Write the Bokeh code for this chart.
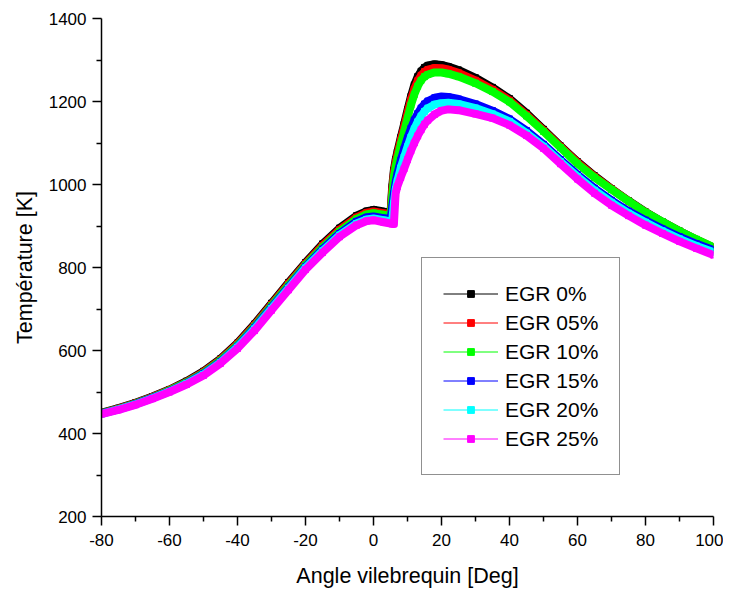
from bokeh.plotting import figure
from bokeh.models import Range1d, Legend, LegendItem, FixedTicker
from bokeh.embed import file_html
from bokeh.resources import INLINE

# ---- data ----
angle = [-80, -75, -70, -65, -60, -55, -50, -45, -40, -35, -30, -25, -20, -15, -10, -5, -2, 0, 3, 5,
         5.5, 6, 6.5, 7, 8, 9, 10, 11, 12, 13, 14, 15, 16,
         18, 20, 22, 25,
         30, 35, 40, 45, 50, 55, 60, 65, 70, 75, 80,
         85, 90, 95, 100]

egr00 = [450, 461, 474, 489, 506, 526, 550, 580, 618, 664, 714, 764, 812, 857, 895, 925, 936, 939, 935, 930,
         995, 1035, 1060, 1078, 1113, 1145, 1180, 1212, 1240, 1260, 1273, 1282, 1287,
         1290, 1288, 1284, 1276,
         1257, 1234, 1207, 1172, 1133, 1093, 1055, 1021, 990, 961, 934,
         910, 888, 867, 848]
egr05 = [449, 460, 473, 488, 505, 524, 548, 578, 616, 661, 711, 761, 809, 853, 891, 921, 932, 935, 931, 927,
         985, 1028, 1053, 1071, 1106, 1138, 1172, 1204, 1230, 1250, 1263, 1272, 1277,
         1281, 1280, 1277, 1269,
         1251, 1229, 1203, 1168, 1130, 1091, 1053, 1019, 989, 960, 933,
         909, 887, 867, 848]
egr10 = [449, 459, 472, 487, 504, 523, 546, 576, 613, 658, 708, 757, 806, 849, 887, 917, 928, 931, 927, 923,
         970, 1018, 1043, 1061, 1096, 1127, 1160, 1191, 1217, 1237, 1251, 1260, 1265,
         1270, 1270, 1267, 1260,
         1244, 1224, 1199, 1165, 1128, 1089, 1050, 1017, 988, 960, 933,
         910, 888, 868, 849]
egr15 = [448, 458, 471, 486, 502, 521, 544, 573, 610, 655, 704, 753, 802, 844, 882, 911, 921, 923, 919, 916,
         945, 978, 1005, 1025, 1058, 1086, 1112, 1135, 1155, 1171, 1184, 1194, 1201,
         1209, 1212, 1211, 1206,
         1194, 1178, 1158, 1130, 1097, 1060, 1024, 991, 962, 936, 914,
         893, 874, 857, 842]
egr20 = [447, 458, 470, 485, 501, 520, 542, 571, 608, 652, 701, 750, 799, 840, 878, 906, 916, 918, 914, 911,
         912, 955, 988, 1008, 1040, 1066, 1091, 1114, 1134, 1151, 1165, 1176, 1184,
         1193, 1196, 1197, 1194,
         1184, 1170, 1152, 1124, 1092, 1055, 1019, 986, 957, 931, 909,
         888, 869, 852, 837]
egr25 = [447, 457, 469, 484, 500, 518, 540, 569, 605, 648, 697, 746, 795, 836, 874, 902, 912, 914, 909, 906,
         905, 905, 978, 995, 1017, 1038, 1060, 1081, 1100, 1117, 1132, 1145, 1155,
         1169, 1178, 1181, 1179,
         1170, 1160, 1143, 1118, 1087, 1050, 1013, 979, 950, 925, 902,
         882, 863, 846, 830]

series_labels = ["EGR 0%", "EGR 05%", "EGR 10%", "EGR 15%", "EGR 20%", "EGR 25%"]
series_colors = ["#000000", "#ff0000", "#00ff00", "#0000ff", "#00ffff", "#ff00ff"]
series_values = [egr00, egr05, egr10, egr15, egr20, egr25]

x_ticks = [-80, -60, -40, -20, 0, 20, 40, 60, 80, 100]
x_minor = [-70, -50, -30, -10, 10, 30, 50, 70, 90]
y_ticks = [200, 400, 600, 800, 1000, 1200, 1400]
y_minor = [300, 500, 700, 900, 1100, 1300]

FONT = "Liberation Sans"

p = figure(frame_width=612, frame_height=498, x_range=Range1d(-80, 100), y_range=Range1d(200, 1400),
           output_backend="svg", toolbar_location=None,
           min_border_left=101, min_border_right=10, min_border_top=18, min_border_bottom=20)
p.xgrid.visible = False
p.ygrid.visible = False
p.outline_line_color = None
p.background_fill_color = "white"
p.border_fill_color = "white"

p.xaxis.ticker = FixedTicker(ticks=x_ticks, minor_ticks=x_minor)
p.yaxis.ticker = FixedTicker(ticks=y_ticks, minor_ticks=y_minor)
p.xaxis.major_label_overrides = {t: str(t) for t in x_ticks}
p.yaxis.major_label_overrides = {t: str(t) for t in y_ticks}
p.xaxis.axis_label = "Angle vilebrequin [Deg]"
p.yaxis.axis_label = "Température [K]"

for ax in (p.xaxis[0], p.yaxis[0]):
    ax.axis_line_width = 1.5
    ax.axis_line_color = "black"
    ax.major_tick_line_width = 1.5
    ax.minor_tick_line_width = 1.5
    ax.major_tick_line_color = "black"
    ax.minor_tick_line_color = "black"
    ax.major_tick_in = 0
    ax.major_tick_out = 9
    ax.minor_tick_in = 0
    ax.minor_tick_out = 5
    ax.major_label_text_font = FONT
    ax.major_label_text_font_size = "17px"
    ax.major_label_text_color = "black"
    ax.axis_label_text_font = FONT
    ax.axis_label_text_font_size = "21.5px"
    ax.axis_label_text_font_style = "normal"
    ax.axis_label_text_color = "black"

p.xaxis[0].major_label_standoff = 8
p.xaxis[0].axis_label_standoff = 15
p.yaxis[0].major_label_standoff = 6
p.yaxis[0].axis_label_standoff = 9

items = []
for lab, col, vals in zip(series_labels, series_colors, series_values):
    p.line(angle, vals, line_color=col, line_width=8, line_join="round")
    thin = p.line(angle, vals, line_color=col, line_width=1)
    mk = p.scatter(angle, vals, marker="square", size=6, fill_color=col, line_color=col)
    items.append(LegendItem(label=lab, renderers=[thin, mk]))

legend = Legend(items=items, location=(320, 41), glyph_width=55, glyph_height=17,
                label_height=29, label_standoff=7, padding=21, spacing=0, margin=0,
                label_text_font=FONT, label_text_font_size="21px", label_text_color="black",
                border_line_color="#222222", border_line_width=1,
                background_fill_color="white", background_fill_alpha=1)
p.add_layout(legend)

open("out.html", "w").write(file_html(p, INLINE))
